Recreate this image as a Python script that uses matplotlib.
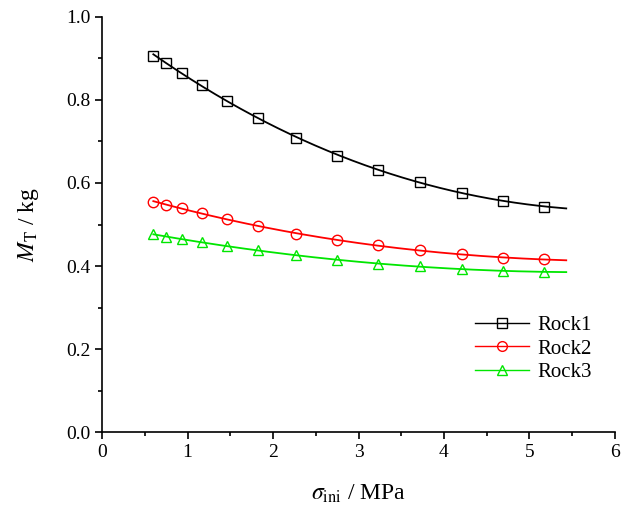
import numpy as np
import matplotlib
matplotlib.use("Agg")
import matplotlib.pyplot as plt
from matplotlib.lines import Line2D
from matplotlib.ticker import MultipleLocator

plt.rcParams['font.family'] = ['Liberation Serif', 'DejaVu Serif']
plt.rcParams['mathtext.fontset'] = 'stix'

sigma = [0.60, 0.75, 0.94, 1.17, 1.46, 1.82, 2.27, 2.75, 3.23, 3.72, 4.21, 4.69, 5.17]
rock1 = [0.907, 0.889, 0.865, 0.835, 0.798, 0.757, 0.709, 0.666, 0.632, 0.602, 0.577, 0.557, 0.543]
rock2 = [0.555, 0.548, 0.539, 0.527, 0.513, 0.496, 0.478, 0.462, 0.450, 0.438, 0.428, 0.420, 0.416]
rock3 = [0.476, 0.471, 0.465, 0.457, 0.448, 0.438, 0.426, 0.414, 0.406, 0.399, 0.393, 0.388, 0.386]
labels = ["Rock1", "Rock2", "Rock3"]
colors = ["black", "#FF0000", "#00E600"]
markers = ["s", "o", "^"]
fit_range = (0.60, 5.43)

fig = plt.figure(figsize=(6.31, 5.12), dpi=100)
ax = fig.add_axes([0.1617, 0.156, 0.8129, 0.811])

xs = np.linspace(fit_range[0], fit_range[1], 200)
handles = []
for y, lab, c, m in zip([rock1, rock2, rock3], labels, colors, markers):
    coef = np.polyfit(sigma, y, 3)
    ax.plot(xs, np.polyval(coef, xs), color=c, lw=1.3, zorder=2)
    ax.plot(sigma, y, linestyle='none', marker=m, markersize=7.5,
            markerfacecolor='none', markeredgecolor=c, markeredgewidth=1.0, zorder=3)
    handles.append(Line2D([], [], color=c, lw=1.0, marker=m, markersize=7,
                          markerfacecolor='none', markeredgecolor=c, markeredgewidth=1.0))

ax.set_xlim(0, 6)
ax.set_ylim(0, 1.0)
ax.xaxis.set_major_locator(MultipleLocator(1))
ax.xaxis.set_minor_locator(MultipleLocator(0.5))
ax.yaxis.set_major_locator(MultipleLocator(0.2))
ax.yaxis.set_minor_locator(MultipleLocator(0.1))
ax.yaxis.set_major_formatter(matplotlib.ticker.FormatStrFormatter('%.1f'))
ax.spines['top'].set_visible(False)
ax.spines['right'].set_visible(False)
for s in ['left', 'bottom']:
    ax.spines[s].set_linewidth(1.2)
ax.tick_params(which='major', direction='out', length=5, width=1.2, labelsize=14)
ax.tick_params(which='minor', direction='out', length=3, width=1.2)

ax.set_xlabel(r'$\sigma_{\mathrm{ini}}$ / MPa', fontsize=17, labelpad=16)
ax.set_ylabel(r'$M_{\mathrm{T}}$ / kg', fontsize=17, labelpad=18)

ax.legend(handles, labels, loc='lower right', bbox_to_anchor=(0.955, 0.12),
          frameon=False, fontsize=15, handlelength=2.6, handletextpad=0.4,
          labelspacing=0.2, borderpad=0, borderaxespad=0)

fig.savefig("out.png", dpi=100)
